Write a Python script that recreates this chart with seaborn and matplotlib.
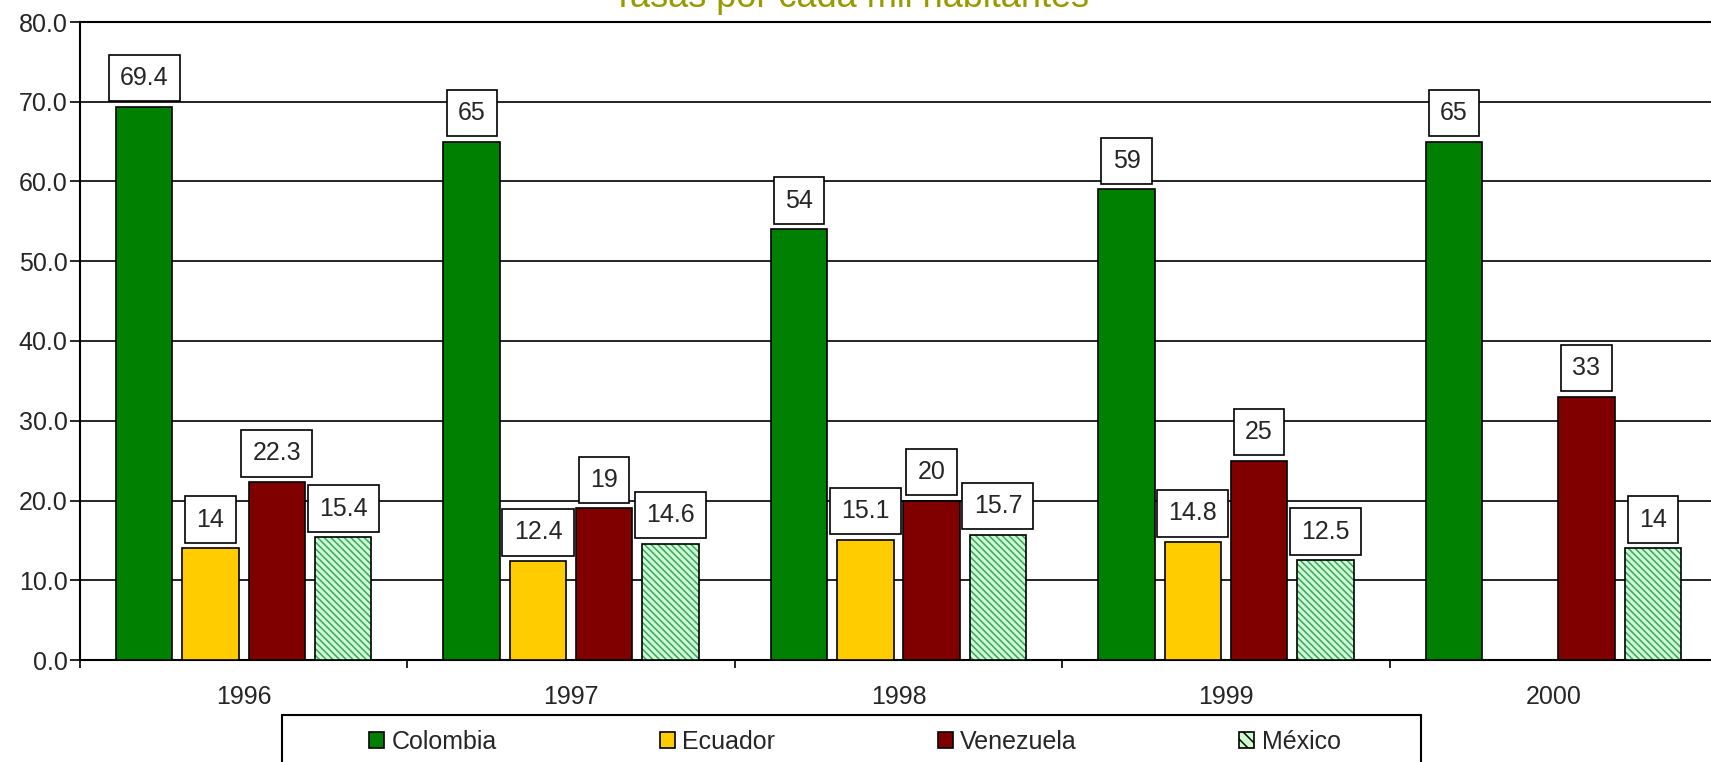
import pandas as pd
import seaborn as sns
import matplotlib.pyplot as plt
from matplotlib.patches import Patch, Rectangle

# data
years = ['1996', '1997', '1998', '1999', '2000']
countries = ['Colombia', 'Ecuador', 'Venezuela', 'México']
colombia = [69.4, 65, 54, 59, 65]
ecuador = [14, 12.4, 15.1, 14.8, None]
venezuela = [22.3, 19, 20, 25, 33]
mexico = [15.4, 14.6, 15.7, 12.5, 14]

colors = ['#008000', '#FFCC00', '#800000', '#CCFFCC']
hatch_color = '#3FA070'

df = pd.DataFrame({'year': years, 'Colombia': colombia, 'Ecuador': ecuador,
                   'Venezuela': venezuela, 'México': mexico})
df = df.melt(id_vars='year', var_name='pais', value_name='tasa')

sns.set_theme(style='white')
plt.rcParams['font.family'] = ['Liberation Sans', 'DejaVu Sans']
plt.rcParams['hatch.linewidth'] = 1.1

fig = plt.figure(figsize=(17.11, 7.62), dpi=100)
ax = fig.add_axes([80 / 1711, 1 - 660 / 762, 1637 / 1711, (660 - 22) / 762])

sns.barplot(data=df, x='year', y='tasa', hue='pais', hue_order=countries,
            palette=colors, width=0.81, gap=0.15, edgecolor='black',
            linewidth=1.2, saturation=1, ax=ax, legend=False, zorder=3)

# México bars get a green diagonal hatch
for p in ax.containers[3]:
    p.set_hatch('\\\\\\\\\\')
    p.set_edgecolor(hatch_color)
    p.set_linewidth(0)
    ax.add_patch(Rectangle(p.get_xy(), p.get_width(), p.get_height(),
                           fill=False, edgecolor='black', lw=1.2, zorder=4))

# value labels in white boxes
for container in ax.containers:
    for p in container:
        h = p.get_height()
        if pd.isna(h) or h == 0:
            continue
        ax.annotate(f'{h:g}', (p.get_x() + p.get_width() / 2, h),
                    xytext=(0, 12), textcoords='offset points',
                    ha='center', va='bottom', fontsize=18, zorder=6,
                    bbox=dict(boxstyle='square,pad=0.45', fc='white',
                              ec='black', lw=1.2))

ax.set_ylim(0, 80)
ax.set_xlim(-0.5, 4.5)
ax.set_yticks(range(0, 81, 10))
ax.set_yticklabels([f'{v:.1f}' for v in range(0, 81, 10)], fontsize=18)
ax.yaxis.grid(True, color='black', lw=1.2, zorder=0)
ax.set_axisbelow(True)

ax.set_xticks([i - 0.5 for i in range(6)])
ax.set_xticklabels([])
ax.set_xticks(range(5), minor=True)
ax.set_xticklabels(years, minor=True, fontsize=18)
ax.tick_params(axis='x', which='major', direction='out', length=6,
               width=1.2, color='black', bottom=True)
ax.tick_params(axis='x', which='minor', length=0, pad=18)
ax.tick_params(axis='y', direction='out', length=7, width=1.2,
               color='black', left=True, pad=2)
ax.set_xlabel('')
ax.set_ylabel('')

ax.spines['right'].set_visible(False)
ax.spines['top'].set_color('black')
ax.spines['top'].set_linewidth(1.5)
for s in ['left', 'bottom']:
    ax.spines[s].set_color('black')
    ax.spines[s].set_linewidth(1.5)

fig.text(850 / 1711, 1 - 7 / 762, 'Tasas por cada mil habitantes',
         ha='center', va='baseline', fontsize=26, color='#999900')

# legend
handles = [Patch(facecolor=c, edgecolor='black', lw=1.2) for c in colors]
handles[3] = Patch(facecolor=colors[3], edgecolor='black', lw=1.2,
                   hatch='\\\\\\')
fig.legend(handles, countries, loc='center', ncol=4, frameon=False,
           bbox_to_anchor=(855 / 1711, 1 - 742 / 762), fontsize=18,
           handlelength=0.6, handleheight=0.6, handletextpad=0.3,
           columnspacing=6.5, borderpad=0)
fig.add_artist(Rectangle((282 / 1711, -0.05), (1421 - 282) / 1711,
                         0.05 + (762 - 715) / 762, transform=fig.transFigure,
                         fill=False, edgecolor='black', lw=1.5))

fig.savefig('out.png', dpi=100)
